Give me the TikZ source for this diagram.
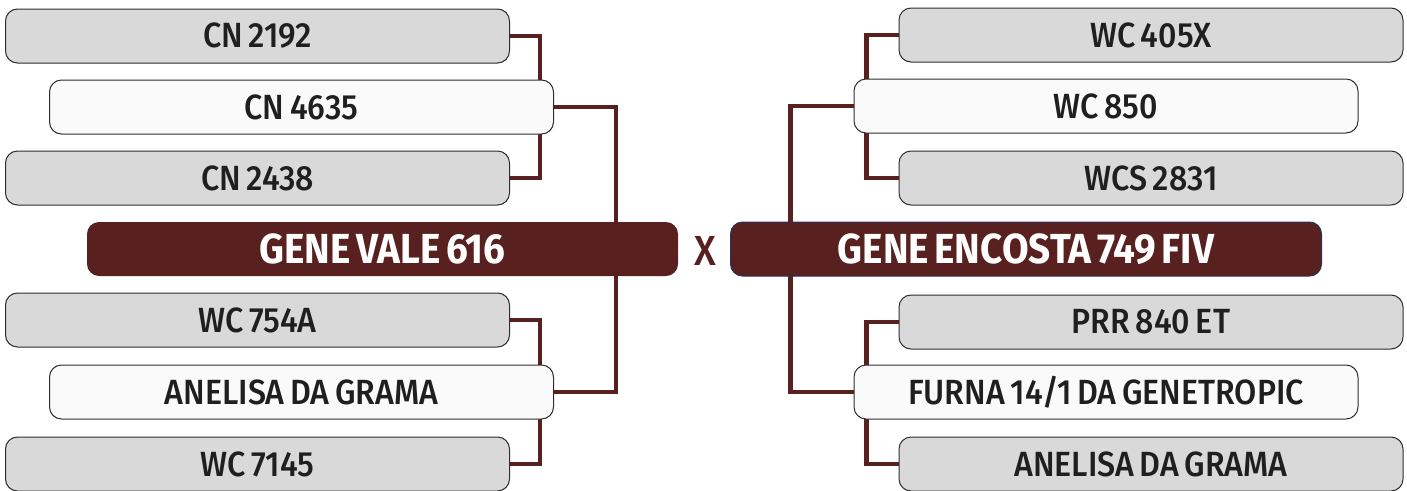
\documentclass[tikz,border=0pt]{standalone}
\usepackage{fontspec}
\setmainfont{Fira Sans}[FakeStretch=0.84]
\newfontfamily\medfont{Fira Sans Medium}[FakeStretch=0.92,WordSpace=0.7]
\newfontfamily\heavyfont{Fira Sans Bold}[FakeStretch=0.92,WordSpace=0.6]
\usepackage{tikz}
\usetikzlibrary{positioning,backgrounds}
\definecolor{maroon}{RGB}{88,32,30}
\definecolor{boxgray}{RGB}{217,217,217}
\definecolor{rimgray}{RGB}{45,45,45}
\definecolor{rimblue}{RGB}{40,50,90}
\tikzset{
  sire/.style={rectangle,rounded corners=12pt,draw=rimgray,line width=1pt,
    fill=boxgray,minimum width=504pt,minimum height=54pt,
    font=\medfont\fontsize{35}{35}\selectfont,text=black!88},
  dam/.style={sire,fill=white!98!black},
  bull/.style={rectangle,rounded corners=12pt,fill=maroon,minimum width=591pt,
    minimum height=54pt,text=white,font=\heavyfont\fontsize{42}{42}\selectfont},
  link/.style={draw=maroon,line width=4.5pt}
}
\begin{document}
\begin{tikzpicture}[x=1pt,y=-1pt]
  \useasboundingbox (0,0) rectangle (1407,490);
  % left
  \node[sire] (cn2192) at (257.5,36) {CN 2192};
  \node[dam] (cn4635) at (301.5,107) {CN 4635};
  \node[sire] (cn2438) at (257.5,178) {CN 2438};
  \node[bull] (vale) at (382.5,249) {GENE VALE 616};
  \node[sire] (wc754a) at (257.5,320) {WC 754A};
  \node[dam] (anelisaL) at (301.5,392) {ANELISA DA GRAMA};
  \node[sire] (wc7145) at (257.5,464) {WC 7145};
  % right
  \node[sire] (wc405x) at (1151,35) {WC 405X};
  \node[dam] (wc850) at (1106,106) {WC 850};
  \node[sire] (wcs2831) at (1151,178) {WCS 2831};
  \node[bull,draw=rimblue,line width=1pt] (encosta) at (1026,249) {GENE ENCOSTA 749 FIV};
  \node[sire] (prr840) at (1151,322) {PRR 840 ET};
  \node[dam] (furna) at (1106,392) {FURNA 14/1 DA GENETROPIC};
  \node[sire] (anelisaR) at (1151,464) {ANELISA DA GRAMA};
  \node[text=maroon,font=\medfont\fontsize{42}{42}\selectfont] (cross) at (705,251) {X};
  \begin{scope}[on background layer]
    \draw[link] (cn2192.east) -- ++(30,0) |- (cn2438.east);
    \draw[link] (wc754a.east) -- ++(30,0) |- (wc7145.east);
    \draw[link] (cn4635.east) -- ++(62,0) |- (anelisaL.east);
    \draw[link] (wc405x.west) -- ++(-32,0) |- (wcs2831.west);
    \draw[link] (prr840.west) -- ++(-32,0) |- (anelisaR.west);
    \draw[link] (wc850.west) -- ++(-63,0) |- (furna.west);
  \end{scope}
\end{tikzpicture}
\end{document}
